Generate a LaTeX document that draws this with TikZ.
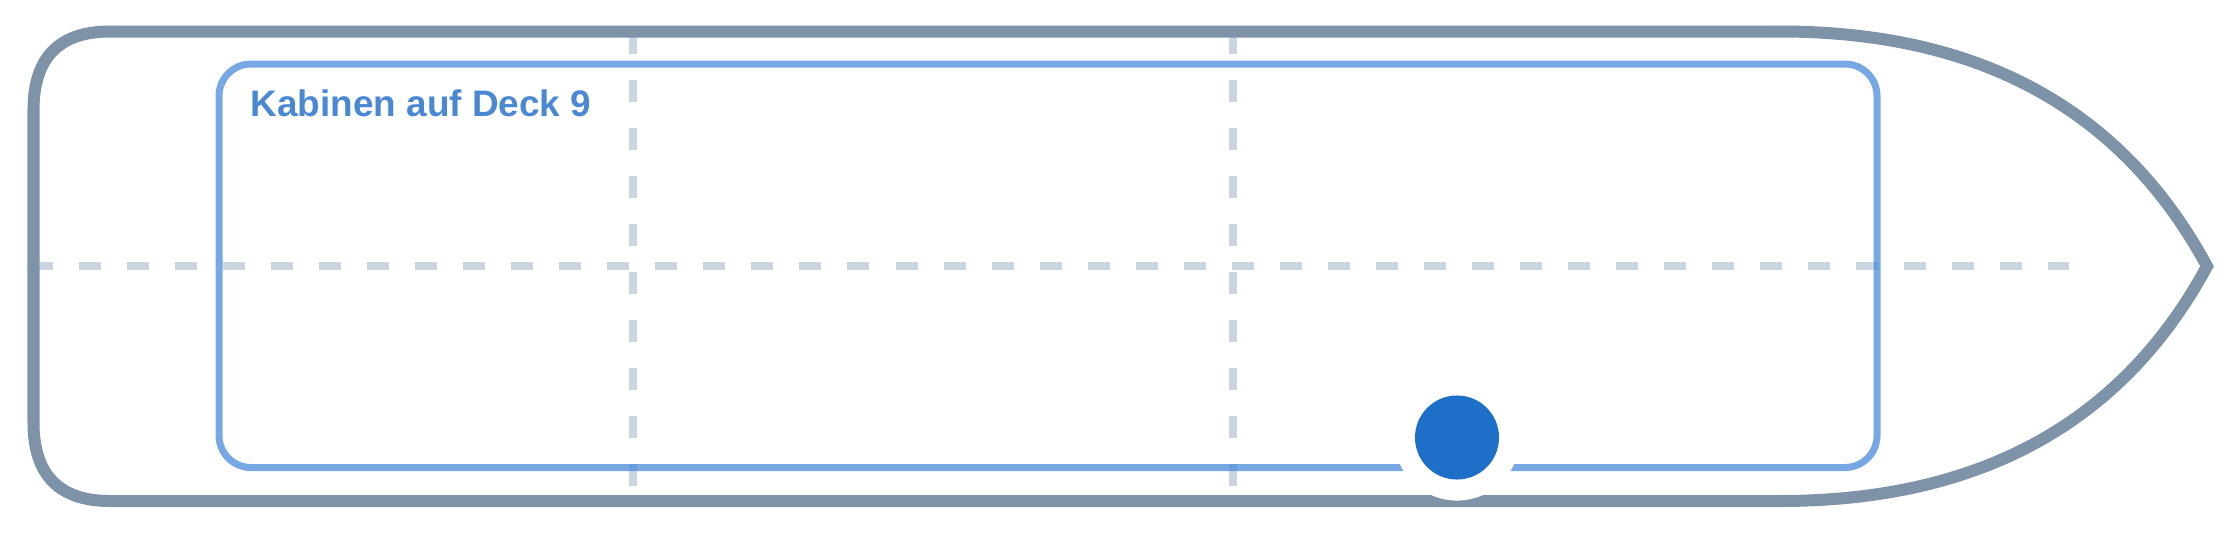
\documentclass[tikz,border=0pt]{standalone}
\usepackage{fontspec}
\setsansfont{Liberation Sans}
\usepackage{tikz}
\usetikzlibrary{positioning}
\definecolor{hullgray}{HTML}{7F93A8}
\definecolor{gridgray}{HTML}{CAD5E0}
\definecolor{cabinblue}{HTML}{4A8BDB}
\definecolor{labelblue}{HTML}{4A88D4}
\definecolor{markblue}{HTML}{1E6FC8}

\begin{document}
\begin{tikzpicture}[
  x=0.01cm, y=-0.01cm,
  hull/.style={draw=hullgray, line width=0.12cm, line join=miter},
  grid/.style={draw=gridgray, line width=0.08cm, dash pattern=on 0.22cm off 0.26cm},
  cabin/.style={draw=cabinblue, draw opacity=0.75, line width=0.07cm, rounded corners=0.32cm},
  title/.style={anchor=base west, inner sep=0pt, text=labelblue,
    font=\sffamily\bfseries\fontsize{10.5}{12}\selectfont},
  halo/.style={circle, fill=white, inner sep=0pt, minimum size=1.26cm},
  marker/.style={circle, fill=markblue, inner sep=0pt, minimum size=0.84cm}
]
\useasboundingbox (0,0) rectangle (2240,533);

% Grid
\draw[grid] (31,266.25) -- (2069,266.25);
\draw[grid] (633,32) -- (633,500);
\draw[grid] (1233,32) -- (1233,500);

% Hull
\draw[hull] (33.5,110) .. controls (33.5,57.7) and (59,31.5) .. (110,31.5)
  -- (1780,31.5) .. controls (1980,31.5) and (2122.3,109.7) .. (2207,266.25)
  .. controls (2122.3,422.8) and (1980,501) .. (1780,501)
  -- (110,501) .. controls (59,501) and (33.5,474.8) .. (33.5,422.5) -- cycle;

% Cabins
\draw[cabin] (219,64) rectangle (1877,467.5);
\node[title] (deck) at (250,116.7) {Kabinen auf Deck 9};

% Position
\node[halo] (markhalo) at (1457,437.5) {};
\node[marker] (mark) at (markhalo.center) {};

\end{tikzpicture}
\end{document}
